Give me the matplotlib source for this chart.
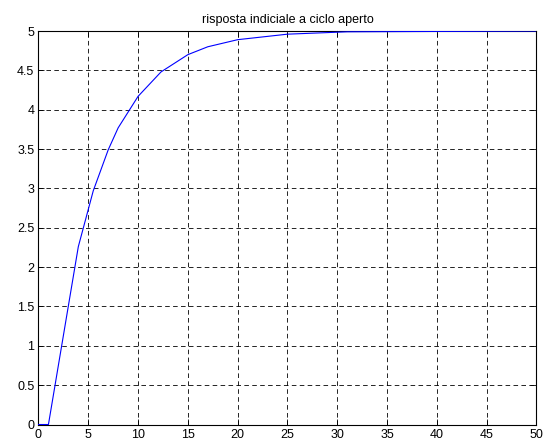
import matplotlib
matplotlib.use("Agg")
import matplotlib.pyplot as plt
import numpy as np

# Step response samples (time, output)
t = [0, 1, 4, 5.5, 7, 8, 10, 12.3, 15, 17, 20, 25, 31, 50]
y = [0, 0, 2.26, 2.97, 3.49, 3.77, 4.17, 4.48, 4.70, 4.80, 4.89, 4.96, 4.99, 5.0]

xticks = np.arange(0, 51, 5)
yticks = np.arange(0, 5.01, 0.5)
ytick_labels = ["0", "0.5", "1", "1.5", "2", "2.5", "3", "3.5", "4", "4.5", "5"]

plt.rcParams["font.family"] = ["Liberation Sans", "DejaVu Sans"]

fig = plt.figure(figsize=(5.45, 4.47), dpi=100)
ax = fig.add_axes([0.0706, 0.0503, 0.9138, 0.8803])

ax.plot(t, y, color="#0000ff", linewidth=0.8, zorder=3)

ax.set_xlim(0, 50)
ax.set_ylim(0, 5)
ax.set_xticks(xticks)
ax.set_yticks(yticks)
ax.set_yticklabels(ytick_labels)
ax.tick_params(direction="in", length=4, width=0.6, labelsize=9,
               top=True, right=True, pad=3, colors="black")
ax.grid(True, color="black", linestyle=(0, (5.5, 4)), linewidth=0.6)
for s in ax.spines.values():
    s.set_linewidth(0.8)

ax.set_title("risposta indiciale a ciclo aperto", fontsize=9, pad=6)

fig.savefig("out.png", dpi=100)
